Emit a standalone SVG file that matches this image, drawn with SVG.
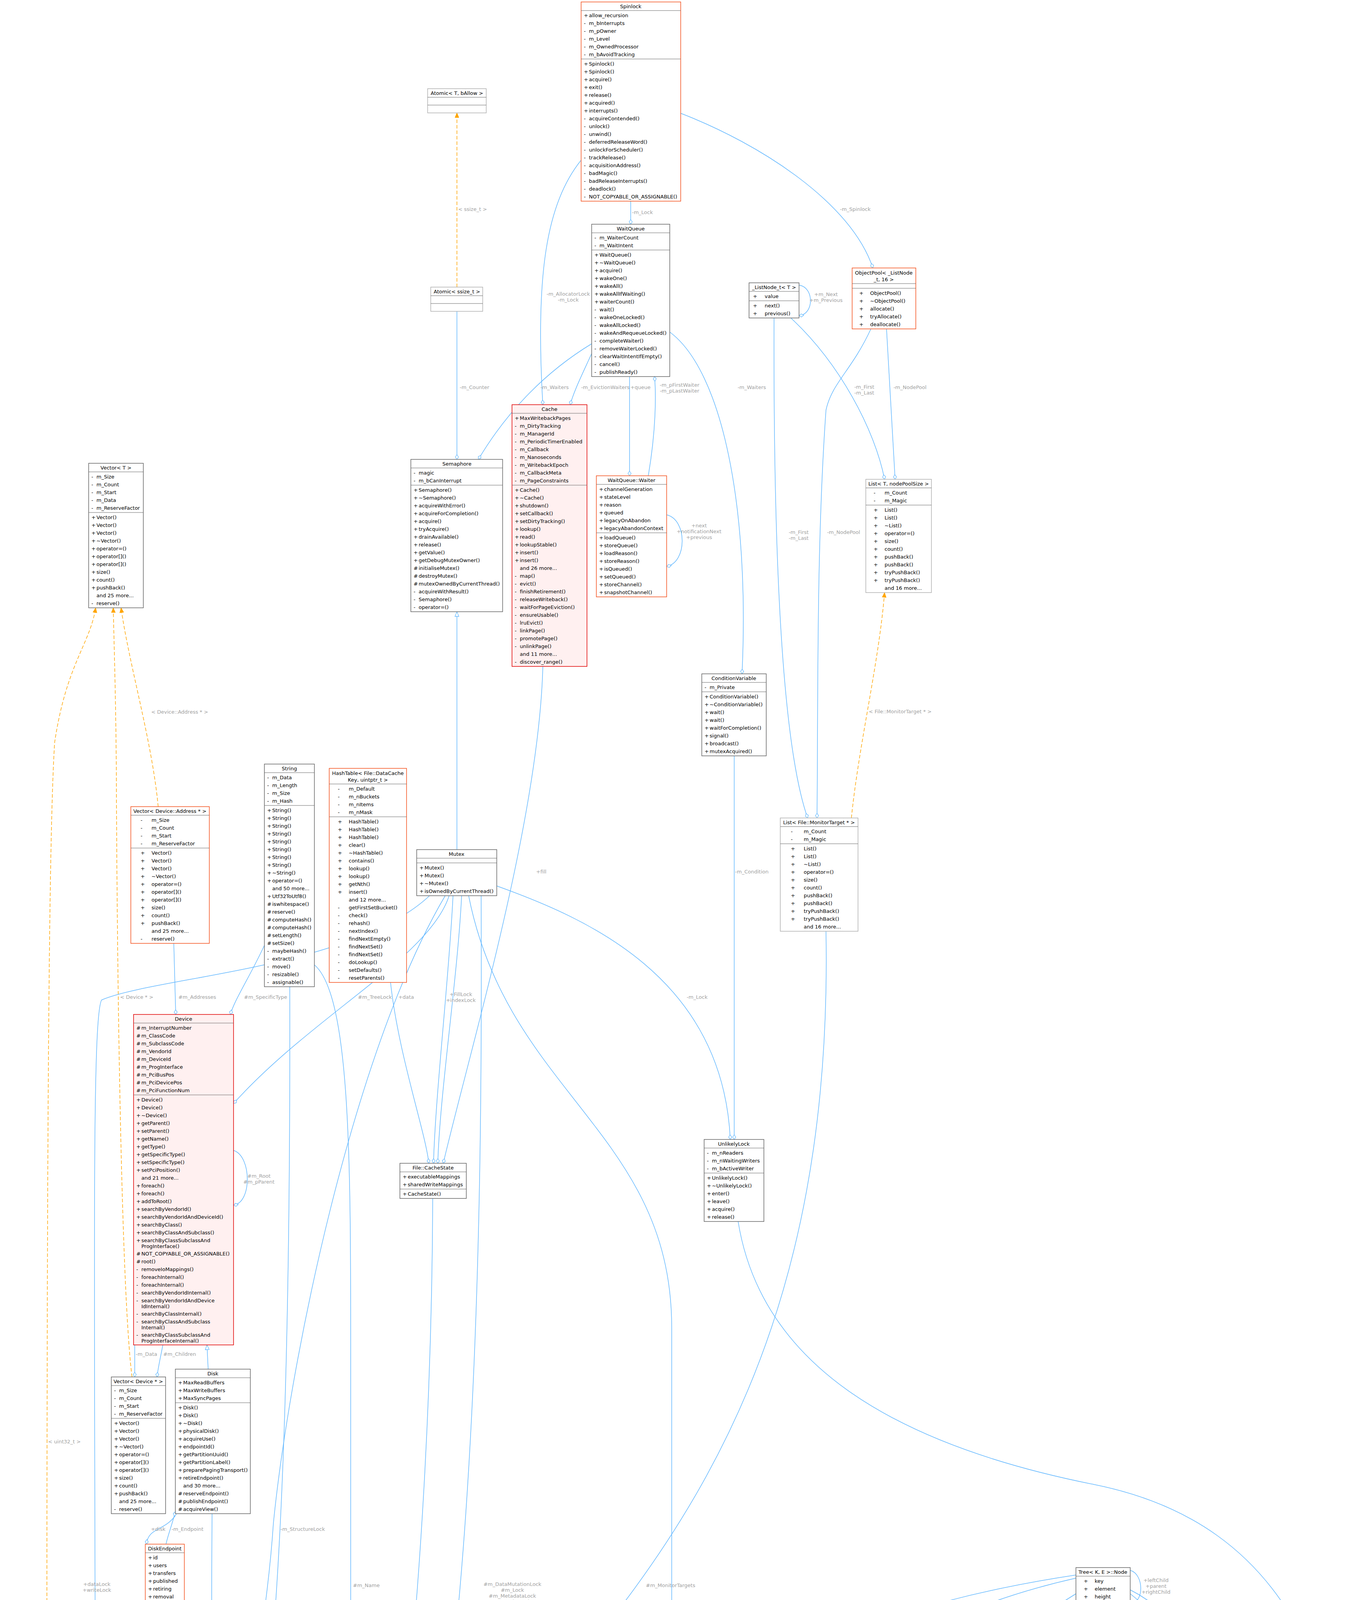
<svg xmlns="http://www.w3.org/2000/svg" width="3508" height="7173" viewBox="0 0 3508 7173">
<style>
text{font-family:"DejaVu Sans","Liberation Sans",sans-serif;font-size:13px;fill:#000}
.h{text-anchor:middle}
.b{fill:#fff;stroke:#666;stroke-width:1.5}
.o{stroke:#f4511e}
.r{fill:#fff0f0;stroke:#e00000}
.g{stroke:#b0b0b0}
.s{fill:#9a9a9a}
.sp{fill:none;stroke:#666;stroke-width:1.2}
.e{fill:none;stroke:#63b8ff;stroke-width:1.5}
.od{fill:none;stroke:#ffa500;stroke-width:1.5;stroke-dasharray:9,5}
.l{fill:#a0a0a0;text-anchor:middle}
</style>
<defs>
<marker id="dm" markerWidth="14" markerHeight="10" refX="13" refY="5" orient="auto" markerUnits="userSpaceOnUse"><path d="M1,5 L7,1 L13,5 L7,9 Z" fill="#fff" stroke="#63b8ff" stroke-width="1.3"/></marker>
<marker id="tr" markerWidth="14" markerHeight="12" refX="13" refY="6" orient="auto" markerUnits="userSpaceOnUse"><path d="M1,1 L13,6 L1,11 Z" fill="#fff" stroke="#63b8ff" stroke-width="1.3"/></marker>
<marker id="oa" markerWidth="14" markerHeight="12" refX="13" refY="6" orient="auto" markerUnits="userSpaceOnUse"><path d="M1,1 L13,6 L1,11 Z" fill="#ffa500" stroke="#ffa500"/></marker>
</defs>

<g id="connectors">
<path class="e" marker-end="url(#dm)" d="M1615,510 L1615,574"/>
<text class="l" x="1645" y="548">-m_Lock</text>
<path class="e" marker-end="url(#dm)" d="M1743,290 C1950,370 2180,520 2235,686"/>
<text class="l" x="2190" y="540">-m_Spinlock</text>
<path class="e" marker-end="url(#dm)" d="M1488,410 C1400,520 1370,700 1390,1036"/>
<text class="l" x="1455" y="757"><tspan x="1455">-m_AllocatorLock</tspan><tspan x="1455" dy="15">-m_Lock</tspan></text>
<path class="e" marker-end="url(#dm)" d="M1715,850 C1850,950 1920,1300 1900,1725"/>
<text class="l" x="1925" y="996">-m_Waiters</text>
<path class="od" marker-end="url(#oa)" d="M1170,735 L1170,289"/>
<text class="l" x="1210" y="540">&lt; ssize_t &gt;</text>
<path class="e" marker-end="url(#dm)" d="M1170,797 L1170,1176"/>
<text class="l" x="1215" y="996">-m_Counter</text>
<path class="e" marker-end="url(#dm)" d="M1515,880 C1400,950 1300,1050 1225,1176"/>
<text class="l" x="1420" y="996">-m_Waiters</text>
<path class="e" marker-end="url(#dm)" d="M1515,905 C1490,960 1470,1000 1460,1036"/>
<text class="l" x="1550" y="996">-m_EvictionWaiters</text>
<path class="e" marker-end="url(#dm)" d="M1612,964 L1612,1218"/>
<text class="l" x="1640" y="996">+queue</text>
<path class="e" marker-end="url(#dm)" d="M1660,1218 C1680,1100 1680,1010 1676,964"/>
<text class="l" x="1740" y="990"><tspan x="1740">-m_pFirstWaiter</tspan><tspan x="1740" dy="15">-m_pLastWaiter</tspan></text>
<path class="e" marker-end="url(#dm)" d="M1707,1318 C1760,1330 1760,1440 1707,1450"/>
<text class="l" x="1790" y="1350"><tspan x="1790">+next</tspan><tspan x="1790" dy="15">+notificationNext</tspan><tspan x="1790" dy="15">+previous</tspan></text>
<path class="e" marker-end="url(#dm)" d="M2046,730 C2085,735 2085,805 2046,808"/>
<text class="l" x="2115" y="758"><tspan x="2115">+m_Next</tspan><tspan x="2115" dy="15">+m_Previous</tspan></text>
<path class="e" marker-end="url(#dm)" d="M2025,814 C2150,930 2240,1100 2265,1227"/>
<text class="l" x="2213" y="995"><tspan x="2213">-m_First</tspan><tspan x="2213" dy="15">-m_Last</tspan></text>
<path class="e" marker-end="url(#dm)" d="M2270,842 L2292,1227"/>
<text class="l" x="2330" y="996">-m_NodePool</text>
<path class="e" marker-end="url(#dm)" d="M1982,814 C1980,1400 2000,1900 2068,2094"/>
<text class="l" x="2045" y="1367"><tspan x="2045">-m_First</tspan><tspan x="2045" dy="15">-m_Last</tspan></text>
<path class="e" marker-end="url(#dm)" d="M2230,842 C2180,950 2130,980 2115,1050 C2090,1400 2095,1800 2092,2094"/>
<text class="l" x="2160" y="1367">-m_NodePool</text>
<path class="od" marker-end="url(#oa)" d="M2180,2094 C2200,1900 2250,1700 2265,1517"/>
<text class="l" x="2305" y="1826">&lt; File::MonitorTarget * &gt;</text>
<path class="e" marker-end="url(#dm)" d="M1880,1935 L1880,2917"/>
<text class="l" x="1925" y="2236">-m_Condition</text>
<path class="e" marker-end="url(#dm)" d="M1272,2268 C1500,2350 1850,2500 1870,2917"/>
<text class="l" x="1785" y="2557">-m_Lock</text>
<path class="e" marker-end="url(#dm)" d="M1390,1706 C1380,2100 1200,2700 1135,2978"/>
<text class="l" x="1386" y="2236">+fill</text>
<path class="e" marker-end="url(#dm)" d="M1160,2293 C1150,2500 1115,2800 1110,2978"/>
<path class="e" marker-end="url(#dm)" d="M1182,2293 C1172,2500 1126,2800 1121,2978"/>
<text class="l" x="1180" y="2550"><tspan x="1180">+FillLock</tspan><tspan x="1180" dy="15">+indexLock</tspan></text>
<path class="e" marker-end="url(#dm)" d="M1000,2515 C1020,2700 1090,2900 1098,2978"/>
<text class="l" x="1040" y="2557">+data</text>
<path class="e" marker-end="url(#dm)" d="M1150,2293 C1100,2450 800,2600 598,2825"/>
<text class="l" x="960" y="2557">#m_TreeLock</text>
<path class="e" marker-end="url(#dm)" d="M677,2420 C640,2500 600,2560 590,2597"/>
<text class="l" x="680" y="2557">#m_SpecificType</text>
<path class="e" marker-end="url(#dm)" d="M445,2415 L450,2597"/>
<text class="l" x="505" y="2557">#m_Addresses</text>
<path class="od" marker-end="url(#oa)" d="M405,2065 C390,1900 330,1700 310,1556"/>
<text class="l" x="460" y="1827">&lt; Device::Address * &gt;</text>
<path class="od" marker-end="url(#oa)" d="M338,3525 C310,3300 300,2500 298,2000 C297,1800 292,1650 290,1556"/>
<text class="l" x="350" y="2557">&lt; Device * &gt;</text>
<path class="od" marker-end="url(#oa)" d="M120,4772 C120,3500 120,2200 140,1900 C170,1700 230,1650 245,1556"/>
<text class="l" x="165" y="3695">&lt; uint32_t &gt;</text>
<path class="e" marker-end="url(#dm)" d="M598,2945 C645,2960 645,3080 598,3085"/>
<text class="l" x="663" y="3015"><tspan x="663">#m_Root</tspan><tspan x="663" dy="15">#m_pParent</tspan></text>
<path class="e" marker-end="url(#dm)" d="M345,3443 L345,3525"/>
<text class="l" x="375" y="3471">-m_Data</text>
<path class="e" marker-end="url(#dm)" d="M417,3443 C410,3480 405,3500 402,3525"/>
<text class="l" x="460" y="3471">#m_Children</text>
<path class="e" marker-end="url(#tr)" d="M533,3505 L530,3443"/>
<path class="e" marker-end="url(#tr)" d="M1170,2175 L1170,1566"/>
<path class="e" marker-end="url(#dm)" d="M449,3880 C420,3920 380,3910 375,3953"/>
<text class="l" x="405" y="3919">+disk</text>
<path class="e" marker-end="url(#dm)" d="M425,3953 C430,3930 440,3905 449,3870"/>
<text class="l" x="480" y="3919">-m_Endpoint</text>
<path class="e" marker-end="url(#dm)" d="M423,4171 L423,4338"/>
<text class="l" x="468" y="4222">-m_Endpoint</text>
<path class="e" marker-end="url(#dm)" d="M543,3875 C540,4300 545,4600 560,4693"/>
<text class="l" x="580" y="4222">#m_pDisk</text>
<path class="e" marker-end="url(#dm)" d="M418,4556 C420,4700 460,4800 509,4845"/>
<text class="l" x="478" y="4660">#m_DiskUse</text>
<path class="e" marker-end="url(#dm)" d="M1140,2293 C900,2700 740,3500 700,3900 C680,4200 620,4400 610,4693"/>
<text class="l" x="775" y="3919">-m_StructureLock</text>
<path class="e" marker-end="url(#dm)" d="M742,2526 C745,3800 700,4400 632,4693"/>
<text class="l" x="815" y="4222">#m_VolumeLabel</text>
<path class="e" marker-end="url(#dm)" d="M805,2470 C900,2550 898,3000 898,3500 L898,5000 C898,5200 850,5250 845,5294"/>
<text class="l" x="938" y="4063">#m_Name</text>
<path class="e" marker-end="url(#dm)" d="M1108,3068 C1105,4000 1000,5000 870,5294"/>
<text class="l" x="1163" y="4222">#m_CacheState</text>
<path class="e" marker-end="url(#dm)" d="M1232,2293 C1235,3000 1235,4800 900,5294"/>
<text class="l" x="1312" y="4060"><tspan x="1312">#m_DataMutationLock</tspan><tspan x="1312" dy="15">#m_Lock</tspan><tspan x="1312" dy="15">#m_MetadataLock</tspan><tspan x="1312" dy="15">#m_WriteLock</tspan></text>
<path class="e" marker-end="url(#dm)" d="M956,4626 L956,4852"/>
<text class="l" x="1025" y="4660">-m_ReadinessState</text>
<path class="e" marker-end="url(#dm)" d="M1366,4626 L1366,4812"/>
<text class="l" x="1430" y="4660">-m_FileEventState</text>
<path class="e" marker-end="url(#tr)" d="M912,5294 L945,5050"/>
<path class="e" marker-end="url(#tr)" d="M941,5360 C1100,5300 1300,5200 1345,5090"/>
<path class="e" marker-end="url(#dm)" d="M652,5190 C700,5250 715,5350 728,5440"/>
<text class="l" x="728" y="5255">#m_pFilesystem</text>
<path class="e" marker-end="url(#dm)" d="M2115,2384 C2130,3200 1900,3700 1600,4100 C1500,4300 1550,5000 1300,5280 C1100,5500 980,5500 941,5510"/>
<text class="l" x="1717" y="4063">#m_MonitorTargets</text>
<path class="e" marker-end="url(#dm)" d="M941,5700 C995,5720 995,5860 941,5870"/>
<text class="l" x="1040" y="5782"><tspan x="1040">#m_pDetachedParent</tspan><tspan x="1040" dy="15">#m_pParent</tspan></text>
<path class="e" marker-end="url(#dm)" d="M1100,2293 C900,2480 400,2500 260,2560 C230,2620 246,3500 246,5645"/>
<text class="l" x="248" y="4060"><tspan x="248">+dataLock</tspan><tspan x="248" dy="15">+writeLock</tspan></text>
<path class="e" marker-end="url(#dm)" d="M1200,2293 C1300,2800 1720,2900 1720,3400 L1720,6100 C1720,6300 1800,6500 1781,6600"/>
<text class="l" x="1792" y="4222"><tspan x="1792">#m_AllocationLock</tspan><tspan x="1792" dy="15">#m_FileMutationLock</tspan><tspan x="1792" dy="15">#m_StateLock</tspan></text>
<path class="e" marker-end="url(#dm)" d="M1890,3127 C1950,3500 2300,3700 2800,3800 C3300,3900 3480,4300 3480,5000 L3480,6200 C3480,6450 2300,6700 1781,6765"/>
<text class="l" x="3460" y="4448">#m_FatLock</text>
<path class="e" marker-end="url(#dm)" d="M2894,4020 C2930,4030 2930,4105 2894,4105"/>
<text class="l" x="2960" y="4050"><tspan x="2960">+leftChild</tspan><tspan x="2960" dy="15">+parent</tspan><tspan x="2960" dy="15">+rightChild</tspan></text>
<path class="e" marker-end="url(#dm)" d="M2795,4111 C2780,4200 2730,4320 2663,4367"/>
<text class="l" x="2797" y="4210"><tspan x="2797">+value</tspan><tspan x="2797" dy="15">-pNode</tspan><tspan x="2797" dy="15">-pPreviousNode</tspan></text>
<path class="e" marker-end="url(#dm)" d="M2840,4111 C2860,4300 2800,4600 2790,4732"/>
<text class="l" x="2870" y="4448">-root</text>
<path class="e" marker-end="url(#dm)" d="M2638,4525 C2650,4600 2680,4700 2690,4732"/>
<text class="l" x="2700" y="4660">-m_Begin</text>
<path class="e" marker-end="url(#dm)" d="M2755,4032 C2300,4100 1900,4250 1830,4450 C1780,4700 1900,5300 1935,5565"/>
<text class="l" x="1808" y="4660">-root</text>
<path class="e" marker-end="url(#dm)" d="M2755,4040 C2400,4120 2050,4300 1985,4600 C1950,4900 2080,5300 2155,5557"/>
<text class="l" x="1963" y="4660">-root</text>
<path class="e" marker-end="url(#dm)" d="M2755,4080 C2400,4300 2170,4550 2150,4900 C2140,5200 2330,5400 2385,5565"/>
<text class="l" x="2150" y="4660">-root</text>
<path class="e" marker-end="url(#dm)" d="M2855,4111 C2900,4400 2980,4800 2980,5100 C2980,5350 2700,5400 2600,5565"/>
<text class="l" x="3007" y="4660">-root</text>
<path class="e" marker-end="url(#dm)" d="M2894,4080 C3050,4200 3120,4500 3130,4800 C3140,5100 2900,5300 2815,5557"/>
<text class="l" x="3160" y="4660">-root</text>
<path class="e" marker-end="url(#dm)" d="M2894,4070 C3150,4200 3200,4600 3210,4900 C3220,5200 3100,5350 3030,5557"/>
<text class="l" x="3212" y="4660">-root</text>
<path class="e" marker-end="url(#dm)" d="M2522,4420 C2200,4550 2050,4700 2000,5000 C1970,5300 1945,5450 1945,5565"/>
<text class="l" x="2085" y="4953">-m_Begin</text>
<path class="e" marker-end="url(#dm)" d="M2522,4440 C2250,4600 2150,4800 2140,5000 C2130,5300 2160,5450 2165,5557"/>
<text class="l" x="2213" y="4953">-m_Begin</text>
<path class="e" marker-end="url(#dm)" d="M2560,4525 C2500,4800 2400,5100 2395,5565"/>
<text class="l" x="2500" y="4953">-m_Begin</text>
<path class="e" marker-end="url(#dm)" d="M2595,4525 C2580,4900 2600,5300 2608,5565"/>
<text class="l" x="2608" y="4953">-m_Begin</text>
<path class="e" marker-end="url(#dm)" d="M2680,4525 C2800,4700 2940,4900 2950,5150 C2960,5350 2830,5450 2823,5557"/>
<text class="l" x="2984" y="4953">-m_Begin</text>
<path class="e" marker-end="url(#dm)" d="M2690,4525 C2900,4600 3100,4800 3130,5000 C3160,5300 3050,5450 3038,5557"/>
<text class="l" x="3162" y="4953">-m_Begin</text>
<path class="od" marker-end="url(#oa)" d="M1965,5565 C2000,5300 2100,5250 2300,5235 C2500,5225 2670,5230 2690,5182"/>
<path class="od" marker-end="url(#oa)" d="M2180,5557 C2220,5350 2300,5240 2700,5230 L2700,5182"/>
<path class="od" marker-end="url(#oa)" d="M2400,5557 C2420,5350 2500,5230 2710,5210 L2712,5182"/>
<path class="od" marker-end="url(#oa)" d="M2620,5565 C2640,5400 2660,5300 2730,5182"/>
<path class="od" marker-end="url(#oa)" d="M2835,5557 C2830,5400 2800,5300 2790,5182"/>
<path class="od" marker-end="url(#oa)" d="M3050,5557 C3040,5400 3000,5250 2880,5230 C2850,5220 2830,5200 2820,5182"/>
<text class="l" x="2185" y="5260">&lt; uint32_t, bool &gt;</text>
<text class="l" x="2350" y="5250"><tspan x="2350">&lt; uintptr_t, FatFilesystem</tspan><tspan x="2350" dy="15">::NodeState * &gt;</tspan></text>
<text class="l" x="2545" y="5260">&lt; uintptr_t, uintptr_t &gt;</text>
<text class="l" x="2710" y="5260">&lt; uint64_t, uintptr_t &gt;</text>
<text class="l" x="2870" y="5250"><tspan x="2870">&lt; File *, FatFilesystem</tspan><tspan x="2870" dy="15">::NodeState * &gt;</tspan></text>
<text class="l" x="3030" y="5250"><tspan x="3030">&lt; uint64_t, FatFile</tspan><tspan x="3030" dy="15">::State * &gt;</tspan></text>
<path class="e" marker-end="url(#dm)" d="M3350,5071 C3340,5400 3270,5600 3268,5755"/>
<text class="l" x="3370" y="5255">+attributes</text>
<path class="e" marker-end="url(#dm)" d="M3280,5813 C3330,5950 3410,5950 3410,5780 C3410,5650 3300,5640 3275,5755"/>
<text class="l" x="3435" y="5787">+next</text>
<path class="e" marker-end="url(#dm)" d="M1950,6015 C1900,6300 1850,6550 1781,6620"/>
<text class="l" x="1905" y="6310">#m_DirtyFatSectors</text>
<path class="e" marker-end="url(#dm)" d="M2150,6025 C2080,6400 1900,6600 1787,6700"/>
<text class="l" x="2095" y="6310">#m_NodeStates</text>
<path class="e" marker-end="url(#dm)" d="M2385,6015 C2300,6400 2000,6650 1787,6722"/>
<text class="l" x="2310" y="6310">#m_FatCache</text>
<path class="e" marker-end="url(#dm)" d="M2600,6015 C2500,6400 2100,6680 1787,6737"/>
<text class="l" x="2540" y="6310">#m_FileIdentifiers</text>
<path class="e" marker-end="url(#dm)" d="M2813,6025 C2700,6400 2200,6700 1787,6745"/>
<text class="l" x="2745" y="6310">#m_NodeAliases</text>
<path class="e" marker-end="url(#dm)" d="M3030,6025 C2900,6400 2300,6700 1787,6752"/>
<text class="l" x="2955" y="6310">#m_FileStates</text>
<path class="e" marker-end="url(#dm)" d="M3235,5813 C3150,6300 2400,6600 1787,6758"/>
<text class="l" x="3185" y="6310">#m_PendingAttributes</text>
<path class="e" marker-end="url(#dm)" d="M470,5913 C520,6300 1200,6650 1587,6740"/>
<text class="l" x="585" y="6310">#m_Superblock</text>
<path class="e" marker-end="url(#dm)" d="M290,5935 C350,6200 1100,6650 1587,6750"/>
<text class="l" x="472" y="6310">#m_StateList</text>
<path class="e" marker-end="url(#dm)" d="M1587,6720 C1000,6500 400,6340 290,6335 C250,6330 265,6100 270,5935"/>
<text class="l" x="305" y="6310">+filesystem</text>
<path class="e" marker-end="url(#dm)" d="M941,6100 C1100,6400 1400,6600 1587,6700"/>
<text class="l" x="1190" y="6310">#m_pRoot</text>
<path class="e" marker-end="url(#dm)" d="M1197,5864 C1240,6300 1500,6600 1587,6680"/>
<text class="l" x="1350" y="6310">#m_Superblock16</text>
<path class="e" marker-end="url(#dm)" d="M1347,5934 C1400,6300 1560,6500 1587,6570"/>
<text class="l" x="1500" y="6310">#m_Superblock32</text>
<path class="e" marker-end="url(#dm)" d="M1500,5873 C1520,6100 1600,6250 1605,6342"/>
<text class="l" x="1625" y="6310">#m_FsInfo</text>
<path class="e" marker-end="url(#dm)" d="M1683,5823 L1683,6342"/>
<text class="l" x="1728" y="6310">#m_RootDir</text>
<path class="e" marker-end="url(#tr)" d="M1587,6790 C1000,6600 650,6300 600,5223"/>
<path class="e" marker-end="url(#tr)" d="M210,6690 C400,6400 700,6250 770,6284"/>
<path class="e" marker-end="url(#dm)" d="M230,5935 C200,6100 150,6300 147,6443"/>
<text class="l" x="198" y="6310">-m_State</text>
<path class="e" marker-end="url(#dm)" d="M190,5935 C170,6200 60,6280 57,6443"/>
<text class="l" x="103" y="6310">+aliases</text>
<path class="e" marker-end="url(#dm)" d="M60,5142 C40,5600 40,6300 80,6443"/>
<text class="l" x="105" y="5787">-m_RetiredClusters</text>
<path class="e" marker-end="url(#dm)" d="M90,5142 C95,5300 200,5300 250,5645"/>
<text class="l" x="175" y="5250"><tspan x="175">+clusters</tspan><tspan x="175" dy="15">+retiredClusters</tspan></text>
<path class="e" marker-end="url(#dm)" d="M313,5700 C350,5720 350,5880 313,5880"/>
<text class="l" x="360" y="5787">+next</text>
<path class="e" marker-end="url(#dm)" d="M210,6700 C255,6720 255,6850 210,6870"/>
<text class="l" x="283" y="6754">-m_NextAlias</text>
</g>

<g id="n_spinlock"><rect class="b o" x="1488" y="5" width="255" height="510"/><text class="h" x="1615" y="21">Spinlock</text><path class="sp o" d="M1488,27 H1743 M1488,151 H1743" stroke="#f4511e"/>
<text x="1495 1508" y="44">+allow_recursion</text><text x="1495 1508" y="64">-m_bInterrupts</text><text x="1495 1508" y="84">-m_pOwner</text><text x="1495 1508" y="104">-m_Level</text><text x="1495 1508" y="124">-m_OwnedProcessor</text><text x="1495 1508" y="144">-m_bAvoidTracking</text>
<text x="1495 1508" y="168">+Spinlock()</text><text x="1495 1508" y="188">+Spinlock()</text><text x="1495 1508" y="208">+acquire()</text><text x="1495 1508" y="228">+exit()</text><text x="1495 1508" y="248">+release()</text><text x="1495 1508" y="268">+acquired()</text><text x="1495 1508" y="288">+interrupts()</text><text x="1495 1508" y="308">-acquireContended()</text><text x="1495 1508" y="328">-unlock()</text><text x="1495 1508" y="348">-unwind()</text><text x="1495 1508" y="368">-deferredReleaseWord()</text><text x="1495 1508" y="388">-unlockForScheduler()</text><text x="1495 1508" y="408">-trackRelease()</text><text x="1495 1508" y="428">-acquisitionAddress()</text><text x="1495 1508" y="448">-badMagic()</text><text x="1495 1508" y="468">-badReleaseInterrupts()</text><text x="1495 1508" y="488">-deadlock()</text><text x="1495 1508" y="508">-NOT_COPYABLE_OR_ASSIGNABLE()</text></g>

<g id="n_atomic_t"><rect class="b g" x="1095" y="227" width="150" height="62"/><text class="h" x="1170" y="243">Atomic&lt; T, bAllow &gt;</text><path class="sp" stroke="#b0b0b0" d="M1095,249 H1245 M1095,269 H1245"/></g>
<g id="n_atomic_ssize"><rect class="b g" x="1103" y="735" width="133" height="62"/><text class="h" x="1170" y="751">Atomic&lt; ssize_t &gt;</text><path class="sp" d="M1103,757 H1236 M1103,777 H1236"/></g>

<g id="n_waitqueue"><rect class="b" x="1515" y="574" width="200" height="390"/><text class="h" x="1615" y="590">WaitQueue</text><path class="sp" d="M1515,596 H1715 M1515,640 H1715"/>
<text x="1522 1535" y="613">-m_WaiterCount</text><text x="1522 1535" y="633">-m_WaitIntent</text>
<text x="1522 1535" y="657">+WaitQueue()</text><text x="1522 1535" y="677">+~WaitQueue()</text><text x="1522 1535" y="697">+acquire()</text><text x="1522 1535" y="717">+wakeOne()</text><text x="1522 1535" y="737">+wakeAll()</text><text x="1522 1535" y="757">+wakeAllIfWaiting()</text><text x="1522 1535" y="777">+waiterCount()</text><text x="1522 1535" y="797">-wait()</text><text x="1522 1535" y="817">-wakeOneLocked()</text><text x="1522 1535" y="837">-wakeAllLocked()</text><text x="1522 1535" y="857">-wakeAndRequeueLocked()</text><text x="1522 1535" y="877">-completeWaiter()</text><text x="1522 1535" y="897">-removeWaiterLocked()</text><text x="1522 1535" y="917">-clearWaitIntentIfEmpty()</text><text x="1522 1535" y="937">-cancel()</text><text x="1522 1535" y="957">-publishReady()</text></g>

<g id="n_semaphore"><rect class="b" x="1052" y="1176" width="235" height="390"/><text class="h" x="1170" y="1192">Semaphore</text><path class="sp" d="M1052,1198 H1287 M1052,1242 H1287"/>
<text x="1059 1072" y="1215">-magic</text><text x="1059 1072" y="1235">-m_bCanInterrupt</text>
<text x="1059 1072" y="1259">+Semaphore()</text><text x="1059 1072" y="1279">+~Semaphore()</text><text x="1059 1072" y="1299">+acquireWithError()</text><text x="1059 1072" y="1319">+acquireForCompletion()</text><text x="1059 1072" y="1339">+acquire()</text><text x="1059 1072" y="1359">+tryAcquire()</text><text x="1059 1072" y="1379">+drainAvailable()</text><text x="1059 1072" y="1399">+release()</text><text x="1059 1072" y="1419">+getValue()</text><text x="1059 1072" y="1439">+getDebugMutexOwner()</text><text x="1059 1072" y="1459">#initialiseMutex()</text><text x="1059 1072" y="1479">#destroyMutex()</text><text x="1059 1072" y="1499">#mutexOwnedByCurrentThread()</text><text x="1059 1072" y="1519">-acquireWithResult()</text><text x="1059 1072" y="1539">-Semaphore()</text><text x="1059 1072" y="1559">-operator=()</text></g>

<g id="n_cache"><rect class="b r" x="1311" y="1036" width="192" height="670"/><text class="h" x="1407" y="1052">Cache</text><path class="sp" stroke="#e00000" d="M1311,1058 H1503 M1311,1242 H1503"/>
<text x="1318 1331" y="1075">+MaxWritebackPages</text><text x="1318 1331" y="1095">-m_DirtyTracking</text><text x="1318 1331" y="1115">-m_ManagerId</text><text x="1318 1331" y="1135">-m_PeriodicTimerEnabled</text><text x="1318 1331" y="1155">-m_Callback</text><text x="1318 1331" y="1175">-m_Nanoseconds</text><text x="1318 1331" y="1195">-m_WritebackEpoch</text><text x="1318 1331" y="1215">-m_CallbackMeta</text><text x="1318 1331" y="1235">-m_PageConstraints</text>
<text x="1318 1331" y="1259">+Cache()</text><text x="1318 1331" y="1279">+~Cache()</text><text x="1318 1331" y="1299">+shutdown()</text><text x="1318 1331" y="1319">+setCallback()</text><text x="1318 1331" y="1339">+setDirtyTracking()</text><text x="1318 1331" y="1359">+lookup()</text><text x="1318 1331" y="1379">+read()</text><text x="1318 1331" y="1399">+lookupStable()</text><text x="1318 1331" y="1419">+insert()</text><text x="1318 1331" y="1439">+insert()</text><text x="1331" y="1459">and 26 more...</text><text x="1318 1331" y="1479">-map()</text><text x="1318 1331" y="1499">-evict()</text><text x="1318 1331" y="1519">-finishRetirement()</text><text x="1318 1331" y="1539">-releaseWriteback()</text><text x="1318 1331" y="1559">-waitForPageEviction()</text><text x="1318 1331" y="1579">-ensureUsable()</text><text x="1318 1331" y="1599">-lruEvict()</text><text x="1318 1331" y="1619">-linkPage()</text><text x="1318 1331" y="1639">-promotePage()</text><text x="1318 1331" y="1659">-unlinkPage()</text><text x="1331" y="1679">and 11 more...</text><text x="1318 1331" y="1699">-discover_range()</text></g>

<g id="n_waiter"><rect class="b o" x="1527" y="1218" width="180" height="310"/><text class="h" x="1617" y="1234">WaitQueue::Waiter</text><path class="sp" stroke="#f4511e" d="M1527,1240 H1707 M1527,1364 H1707"/>
<text x="1534 1547" y="1257">+channelGeneration</text><text x="1534 1547" y="1277">+stateLevel</text><text x="1534 1547" y="1297">+reason</text><text x="1534 1547" y="1317">+queued</text><text x="1534 1547" y="1337">+legacyOnAbandon</text><text x="1534 1547" y="1357">+legacyAbandonContext</text>
<text x="1534 1547" y="1381">+loadQueue()</text><text x="1534 1547" y="1401">+storeQueue()</text><text x="1534 1547" y="1421">+loadReason()</text><text x="1534 1547" y="1441">+storeReason()</text><text x="1534 1547" y="1461">+isQueued()</text><text x="1534 1547" y="1481">+setQueued()</text><text x="1534 1547" y="1501">+storeChannel()</text><text x="1534 1547" y="1521">+snapshotChannel()</text></g>

<g id="n_condvar"><rect class="b" x="1797" y="1725" width="165" height="210"/><text class="h" x="1879" y="1741">ConditionVariable</text><path class="sp" d="M1797,1747 H1962 M1797,1771 H1962"/>
<text x="1804 1817" y="1764">-m_Private</text>
<text x="1804 1817" y="1788">+ConditionVariable()</text><text x="1804 1817" y="1808">+~ConditionVariable()</text><text x="1804 1817" y="1828">+wait()</text><text x="1804 1817" y="1848">+wait()</text><text x="1804 1817" y="1868">+waitForCompletion()</text><text x="1804 1817" y="1888">+signal()</text><text x="1804 1817" y="1908">+broadcast()</text><text x="1804 1817" y="1928">+mutexAcquired()</text></g>

<g id="n_vector_t"><rect class="b" x="227" y="1186" width="140" height="370"/><text class="h" x="297" y="1202">Vector&lt; T &gt;</text><path class="sp" d="M227,1208 H367 M227,1312 H367"/>
<text x="234 247" y="1225">-m_Size</text><text x="234 247" y="1245">-m_Count</text><text x="234 247" y="1265">-m_Start</text><text x="234 247" y="1285">-m_Data</text><text x="234 247" y="1305">-m_ReserveFactor</text>
<text x="234 247" y="1329">+Vector()</text><text x="234 247" y="1349">+Vector()</text><text x="234 247" y="1369">+Vector()</text><text x="234 247" y="1389">+~Vector()</text><text x="234 247" y="1409">+operator=()</text><text x="234 247" y="1429">+operator[]()</text><text x="234 247" y="1449">+operator[]()</text><text x="234 247" y="1469">+size()</text><text x="234 247" y="1489">+count()</text><text x="234 247" y="1509">+pushBack()</text><text x="247" y="1529">and 25 more...</text><text x="234 247" y="1549">-reserve()</text></g>

<g id="n_listnode"><rect class="b" x="1918" y="724" width="128" height="90"/><text class="h" x="1982" y="740">_ListNode_t&lt; T &gt;</text><path class="sp" d="M1918,746 H2046 M1918,770 H2046"/>
<text x="1928 1958" y="763">+value</text><text x="1928 1958" y="787">+next()</text><text x="1928 1958" y="807">+previous()</text></g>

<g id="n_objectpool"><rect class="b o" x="2182" y="686" width="163" height="156"/><text class="h" x="2263" y="703">ObjectPool&lt; _ListNode</text><text class="h" x="2263" y="720">_t, 16 &gt;</text><path class="sp" stroke="#f4511e" d="M2182,726 H2345 M2182,738 H2345"/>
<text x="2200 2228" y="755">+ObjectPool()</text><text x="2200 2228" y="775">+~ObjectPool()</text><text x="2200 2228" y="795">+allocate()</text><text x="2200 2228" y="815">+tryAllocate()</text><text x="2200 2228" y="835">+deallocate()</text></g>

<g id="n_list_t"><rect class="b g" x="2217" y="1227" width="168" height="290"/><text class="h" x="2301" y="1243">List&lt; T, nodePoolSize &gt;</text><path class="sp" stroke="#b0b0b0" d="M2217,1249 H2385 M2217,1293 H2385"/>
<text x="2237 2265" y="1266">-m_Count</text><text x="2237 2265" y="1286">-m_Magic</text>
<text x="2237 2265" y="1310">+List()</text><text x="2237 2265" y="1330">+List()</text><text x="2237 2265" y="1350">+~List()</text><text x="2237 2265" y="1370">+operator=()</text><text x="2237 2265" y="1390">+size()</text><text x="2237 2265" y="1410">+count()</text><text x="2237 2265" y="1430">+pushBack()</text><text x="2237 2265" y="1450">+pushBack()</text><text x="2237 2265" y="1470">+tryPushBack()</text><text x="2237 2265" y="1490">+tryPushBack()</text><text x="2265" y="1510">and 16 more...</text></g>

<g id="n_list_mt"><rect class="b g" x="1998" y="2094" width="199" height="290"/><text class="h" x="2097" y="2110">List&lt; File::MonitorTarget * &gt;</text><path class="sp" stroke="#b0b0b0" d="M1998,2116 H2197 M1998,2160 H2197"/>
<text x="2025 2058" y="2133">-m_Count</text><text x="2025 2058" y="2153">-m_Magic</text>
<text x="2025 2058" y="2177">+List()</text><text x="2025 2058" y="2197">+List()</text><text x="2025 2058" y="2217">+~List()</text><text x="2025 2058" y="2237">+operator=()</text><text x="2025 2058" y="2257">+size()</text><text x="2025 2058" y="2277">+count()</text><text x="2025 2058" y="2297">+pushBack()</text><text x="2025 2058" y="2317">+pushBack()</text><text x="2025 2058" y="2337">+tryPushBack()</text><text x="2025 2058" y="2357">+tryPushBack()</text><text x="2058" y="2377">and 16 more...</text></g>

<g id="n_unlikelylock"><rect class="b" x="1803" y="2917" width="153" height="210"/><text class="h" x="1879" y="2933">UnlikelyLock</text><path class="sp" d="M1803,2939 H1956 M1803,3003 H1956"/>
<text x="1810 1823" y="2956">-m_nReaders</text><text x="1810 1823" y="2976">-m_nWaitingWriters</text><text x="1810 1823" y="2996">-m_bActiveWriter</text>
<text x="1810 1823" y="3020">+UnlikelyLock()</text><text x="1810 1823" y="3040">+~UnlikelyLock()</text><text x="1810 1823" y="3060">+enter()</text><text x="1810 1823" y="3080">+leave()</text><text x="1810 1823" y="3100">+acquire()</text><text x="1810 1823" y="3120">+release()</text></g>

<g id="n_vector_addr"><rect class="b o" x="335" y="2065" width="201" height="350"/><text class="h" x="435" y="2081">Vector&lt; Device::Address * &gt;</text><path class="sp" stroke="#f4511e" d="M335,2087 H536 M335,2171 H536"/>
<text x="360 388" y="2104">-m_Size</text><text x="360 388" y="2124">-m_Count</text><text x="360 388" y="2144">-m_Start</text><text x="360 388" y="2164">-m_ReserveFactor</text>
<text x="360 388" y="2188">+Vector()</text><text x="360 388" y="2208">+Vector()</text><text x="360 388" y="2228">+Vector()</text><text x="360 388" y="2248">+~Vector()</text><text x="360 388" y="2268">+operator=()</text><text x="360 388" y="2288">+operator[]()</text><text x="360 388" y="2308">+operator[]()</text><text x="360 388" y="2328">+size()</text><text x="360 388" y="2348">+count()</text><text x="360 388" y="2368">+pushBack()</text><text x="388" y="2388">and 25 more...</text><text x="360 388" y="2408">-reserve()</text></g>

<g id="n_string"><rect class="b" x="677" y="1956" width="128" height="570"/><text class="h" x="741" y="1972">String</text><path class="sp" d="M677,1978 H805 M677,2062 H805"/>
<text x="684 697" y="1995">-m_Data</text><text x="684 697" y="2015">-m_Length</text><text x="684 697" y="2035">-m_Size</text><text x="684 697" y="2055">-m_Hash</text>
<text x="684 697" y="2079">+String()</text><text x="684 697" y="2099">+String()</text><text x="684 697" y="2119">+String()</text><text x="684 697" y="2139">+String()</text><text x="684 697" y="2159">+String()</text><text x="684 697" y="2179">+String()</text><text x="684 697" y="2199">+String()</text><text x="684 697" y="2219">+String()</text><text x="684 697" y="2239">+~String()</text><text x="684 697" y="2259">+operator=()</text><text x="697" y="2279">and 50 more...</text><text x="684 697" y="2299">+Utf32ToUtf8()</text><text x="684 697" y="2319">#iswhitespace()</text><text x="684 697" y="2339">#reserve()</text><text x="684 697" y="2359">#computeHash()</text><text x="684 697" y="2379">#computeHash()</text><text x="684 697" y="2399">#setLength()</text><text x="684 697" y="2419">#setSize()</text><text x="684 697" y="2439">-maybeHash()</text><text x="684 697" y="2459">-extract()</text><text x="684 697" y="2479">-move()</text><text x="684 697" y="2499">-resizable()</text><text x="684 697" y="2519">-assignable()</text></g>

<g id="n_hashtable"><rect class="b o" x="843" y="1967" width="198" height="548"/><text class="h" x="942" y="1984">HashTable&lt; File::DataCache</text><text class="h" x="942" y="2001">Key, uintptr_t &gt;</text><path class="sp" stroke="#f4511e" d="M843,2007 H1041 M843,2091 H1041"/>
<text x="865 893" y="2024">-m_Default</text><text x="865 893" y="2044">-m_nBuckets</text><text x="865 893" y="2064">-m_nItems</text><text x="865 893" y="2084">-m_nMask</text>
<text x="865 893" y="2108">+HashTable()</text><text x="865 893" y="2128">+HashTable()</text><text x="865 893" y="2148">+HashTable()</text><text x="865 893" y="2168">+clear()</text><text x="865 893" y="2188">+~HashTable()</text><text x="865 893" y="2208">+contains()</text><text x="865 893" y="2228">+lookup()</text><text x="865 893" y="2248">+lookup()</text><text x="865 893" y="2268">+getNth()</text><text x="865 893" y="2288">+insert()</text><text x="893" y="2308">and 12 more...</text><text x="865 893" y="2328">-getFirstSetBucket()</text><text x="865 893" y="2348">-check()</text><text x="865 893" y="2368">-rehash()</text><text x="865 893" y="2388">-nextIndex()</text><text x="865 893" y="2408">-findNextEmpty()</text><text x="865 893" y="2428">-findNextSet()</text><text x="865 893" y="2448">-findNextSet()</text><text x="865 893" y="2468">-doLookup()</text><text x="865 893" y="2488">-setDefaults()</text><text x="865 893" y="2508">-resetParents()</text></g>

<g id="n_mutex"><rect class="b" x="1067" y="2175" width="205" height="118"/><text class="h" x="1169" y="2191">Mutex</text><path class="sp" d="M1067,2197 H1272 M1067,2209 H1272"/>
<text x="1074 1087" y="2226">+Mutex()</text><text x="1074 1087" y="2246">+Mutex()</text><text x="1074 1087" y="2266">+~Mutex()</text><text x="1074 1087" y="2286">+isOwnedByCurrentThread()</text></g>

<g id="n_device"><rect class="b r" x="342" y="2597" width="256" height="846"/><text class="h" x="470" y="2613">Device</text><path class="sp" stroke="#e00000" d="M342,2619 H598 M342,2803 H598"/>
<text x="349 362" y="2636">#m_InterruptNumber</text><text x="349 362" y="2656">#m_ClassCode</text><text x="349 362" y="2676">#m_SubclassCode</text><text x="349 362" y="2696">#m_VendorId</text><text x="349 362" y="2716">#m_DeviceId</text><text x="349 362" y="2736">#m_ProgInterface</text><text x="349 362" y="2756">#m_PciBusPos</text><text x="349 362" y="2776">#m_PciDevicePos</text><text x="349 362" y="2796">#m_PciFunctionNum</text>
<text x="349 362" y="2820">+Device()</text><text x="349 362" y="2840">+Device()</text><text x="349 362" y="2860">+~Device()</text><text x="349 362" y="2880">+getParent()</text><text x="349 362" y="2900">+setParent()</text><text x="349 362" y="2920">+getName()</text><text x="349 362" y="2940">+getType()</text><text x="349 362" y="2960">+getSpecificType()</text><text x="349 362" y="2980">+setSpecificType()</text><text x="349 362" y="3000">+setPciPosition()</text><text x="362" y="3020">and 21 more...</text><text x="349 362" y="3040">+foreach()</text><text x="349 362" y="3060">+foreach()</text><text x="349 362" y="3080">+addToRoot()</text><text x="349 362" y="3100">+searchByVendorId()</text><text x="349 362" y="3120">+searchByVendorIdAndDeviceId()</text><text x="349 362" y="3140">+searchByClass()</text><text x="349 362" y="3160">+searchByClassAndSubclass()</text>
<text x="349 362" y="3180">+searchByClassSubclassAnd</text><text x="362" y="3195">ProgInterface()</text>
<text x="349 362" y="3214">#NOT_COPYABLE_OR_ASSIGNABLE()</text><text x="349 362" y="3234">#root()</text><text x="349 362" y="3254">-removeIoMappings()</text><text x="349 362" y="3274">-foreachInternal()</text><text x="349 362" y="3294">-foreachInternal()</text><text x="349 362" y="3314">-searchByVendorIdInternal()</text>
<text x="349 362" y="3334">-searchByVendorIdAndDevice</text><text x="362" y="3349">IdInternal()</text>
<text x="349 362" y="3368">-searchByClassInternal()</text>
<text x="349 362" y="3388">-searchByClassAndSubclass</text><text x="362" y="3403">Internal()</text>
<text x="349 362" y="3422">-searchByClassSubclassAnd</text><text x="362" y="3437">ProgInterfaceInternal()</text></g>

<g id="n_cachestate"><rect class="b" x="1024" y="2978" width="170" height="90"/><text class="h" x="1109" y="2994">File::CacheState</text><path class="sp" d="M1024,3000 H1194 M1024,3044 H1194"/>
<text x="1031 1044" y="3017">+executableMappings</text><text x="1031 1044" y="3037">+sharedWriteMappings</text><text x="1031 1044" y="3061">+CacheState()</text></g>

<g id="n_vector_dev"><rect class="b" x="285" y="3525" width="139" height="350"/><text class="h" x="354" y="3541">Vector&lt; Device * &gt;</text><path class="sp" d="M285,3547 H424 M285,3631 H424"/>
<text x="292 305" y="3564">-m_Size</text><text x="292 305" y="3584">-m_Count</text><text x="292 305" y="3604">-m_Start</text><text x="292 305" y="3624">-m_ReserveFactor</text>
<text x="292 305" y="3648">+Vector()</text><text x="292 305" y="3668">+Vector()</text><text x="292 305" y="3688">+Vector()</text><text x="292 305" y="3708">+~Vector()</text><text x="292 305" y="3728">+operator=()</text><text x="292 305" y="3748">+operator[]()</text><text x="292 305" y="3768">+operator[]()</text><text x="292 305" y="3788">+size()</text><text x="292 305" y="3808">+count()</text><text x="292 305" y="3828">+pushBack()</text><text x="305" y="3848">and 25 more...</text><text x="292 305" y="3868">-reserve()</text></g>

<g id="n_disk"><rect class="b" x="449" y="3505" width="192" height="370"/><text class="h" x="545" y="3521">Disk</text><path class="sp" d="M449,3527 H641 M449,3591 H641"/>
<text x="456 469" y="3544">+MaxReadBuffers</text><text x="456 469" y="3564">+MaxWriteBuffers</text><text x="456 469" y="3584">+MaxSyncPages</text>
<text x="456 469" y="3608">+Disk()</text><text x="456 469" y="3628">+Disk()</text><text x="456 469" y="3648">+~Disk()</text><text x="456 469" y="3668">+physicalDisk()</text><text x="456 469" y="3688">+acquireUse()</text><text x="456 469" y="3708">+endpointId()</text><text x="456 469" y="3728">+getPartitionUuid()</text><text x="456 469" y="3748">+getPartitionLabel()</text><text x="456 469" y="3768">+preparePagingTransport()</text><text x="456 469" y="3788">+retireEndpoint()</text><text x="469" y="3808">and 30 more...</text><text x="456 469" y="3828">#reserveEndpoint()</text><text x="456 469" y="3848">#publishEndpoint()</text><text x="456 469" y="3868">#acquireView()</text></g>

<g id="n_diskendpoint"><rect class="b o" x="372" y="3953" width="100" height="218"/><text class="h" x="422" y="3969">DiskEndpoint</text><path class="sp" stroke="#f4511e" d="M372,3975 H472 M372,4159 H472"/>
<text x="379 392" y="3992">+id</text><text x="379 392" y="4012">+users</text><text x="379 392" y="4032">+transfers</text><text x="379 392" y="4052">+published</text><text x="379 392" y="4072">+retiring</text><text x="379 392" y="4092">+removal</text><text x="379 392" y="4112">+preparing</text><text x="379 392" y="4132">+closing</text><text x="379 392" y="4152">+bytes</text></g>

<g id="n_diskuse"><rect class="b" x="362" y="4338" width="124" height="218"/><text class="h" x="424" y="4354">DiskUse</text><path class="sp" d="M362,4360 H486 M362,4372 H486"/>
<text x="369 382" y="4389">+DiskUse()</text><text x="369 382" y="4409">+DiskUse()</text><text x="369 382" y="4429">+~DiskUse()</text><text x="369 382" y="4449">+operator=()</text><text x="369 382" y="4469">+reset()</text><text x="369 382" y="4489">+get()</text><text x="369 382" y="4509">+operator bool()</text><text x="369 382" y="4529">-DiskUse()</text><text x="369 382" y="4549">-operator=()</text></g>

<g id="n_sp_readiness"><rect class="b o" x="873" y="4270" width="186" height="356"/><text class="h" x="966" y="4287">SharedPointer&lt; Readiness</text><text class="h" x="966" y="4304">State &gt;</text><path class="sp" stroke="#f4511e" d="M873,4310 H1059 M873,4322 H1059"/>
<text x="895 923" y="4339">+SharedPointer()</text><text x="895 923" y="4359">+SharedPointer()</text><text x="895 923" y="4379">+SharedPointer()</text><text x="895 923" y="4399">+SharedPointer()</text><text x="895 923" y="4419">+~SharedPointer()</text><text x="895 923" y="4439">+reset()</text><text x="895 923" y="4459">+reset()</text><text x="895 923" y="4479">+get()</text><text x="895 923" y="4499">+operator-&gt;()</text><text x="895 923" y="4519">+operator*()</text><text x="923" y="4539">and 11 more...</text><text x="895 923" y="4559">+allocate()</text><text x="895 923" y="4579">+tryAllocate()</text><text x="895 923" y="4599">+tryAdopt()</text><text x="895 923" y="4619">-release()</text></g>

<g id="n_sp_fileevent"><rect class="b o" x="1277" y="4270" width="179" height="356"/><text class="h" x="1366" y="4287">SharedPointer&lt; FileEvent</text><text class="h" x="1366" y="4304">State &gt;</text><path class="sp" stroke="#f4511e" d="M1277,4310 H1456 M1277,4322 H1456"/>
<text x="1297 1325" y="4339">+SharedPointer()</text><text x="1297 1325" y="4359">+SharedPointer()</text><text x="1297 1325" y="4379">+SharedPointer()</text><text x="1297 1325" y="4399">+SharedPointer()</text><text x="1297 1325" y="4419">+~SharedPointer()</text><text x="1297 1325" y="4439">+reset()</text><text x="1297 1325" y="4459">+reset()</text><text x="1297 1325" y="4479">+get()</text><text x="1297 1325" y="4499">+operator-&gt;()</text><text x="1297 1325" y="4519">+operator*()</text><text x="1325" y="4539">and 11 more...</text><text x="1297 1325" y="4559">+allocate()</text><text x="1297 1325" y="4579">+tryAllocate()</text><text x="1297 1325" y="4599">+tryAdopt()</text><text x="1297 1325" y="4619">-release()</text></g>

<g id="n_readinesssource"><rect class="b" x="873" y="4852" width="180" height="198"/><text class="h" x="963" y="4868">ReadinessSource</text><path class="sp" d="M873,4874 H1053 M873,4886 H1053"/>
<text x="880 893" y="4903">+ReadinessSource()</text><text x="880 893" y="4923">+~ReadinessSource()</text><text x="880 893" y="4943">+subscribeReadiness()</text><text x="880 893" y="4963">+readinessGenerations()</text><text x="880 893" y="4983">#notifyReadiness()</text><text x="880 893" y="5003">#closeReadiness()</text><text x="880 893" y="5023">-ReadinessSource()</text><text x="880 893" y="5043">-operator=()</text></g>

<g id="n_fileeventsource"><rect class="b" x="1272" y="4812" width="190" height="278"/><text class="h" x="1367" y="4828">FileEventSource</text><path class="sp" d="M1272,4834 H1462 M1272,4846 H1462"/>
<text x="1279 1292" y="4863">+FileEventSource()</text><text x="1279 1292" y="4883">+~FileEventSource()</text><text x="1279 1292" y="4903">+subscribeFileEvents()</text><text x="1279 1292" y="4923">#hasFileEventObservers()</text><text x="1279 1292" y="4943">#notifyFileEvent()</text><text x="1279 1292" y="4963">#notifyFinalFileEvent()</text><text x="1279 1292" y="4983">#beginFinalFileEvent()</text><text x="1279 1292" y="5003">#drainFileEvents()</text><text x="1279 1292" y="5023">#closeFileEvents()</text><text x="1279 1292" y="5043">#anyFileEventObservers()</text><text x="1279 1292" y="5063">-FileEventSource()</text><text x="1279 1292" y="5083">-operator=()</text></g>

<g id="n_filesystem"><rect class="b" x="509" y="4693" width="143" height="530"/><text class="h" x="580" y="4709">Filesystem</text><path class="sp" d="M509,4715 H652 M509,4739 H652"/>
<text x="516 529" y="4732">#m_bReadOnly</text>
<text x="516 529" y="4756">+Filesystem()</text><text x="516 529" y="4776">+~Filesystem()</text><text x="516 529" y="4796">+initialise()</text><text x="516 529" y="4816">+find()</text><text x="516 529" y="4836">+find()</text><text x="516 529" y="4856">+find()</text><text x="516 529" y="4876">+find()</text><text x="516 529" y="4896">+findRetained()</text><text x="516 529" y="4916">+getRoot()</text><text x="516 529" y="4936">+getVolumeLabel()</text><text x="529" y="4956">and 18 more...</text><text x="516 529" y="4976">#createFile()</text><text x="516 529" y="4996">#createDirectory()</text><text x="516 529" y="5016">#createSymlink()</text><text x="516 529" y="5036">#createLink()</text><text x="516 529" y="5056">#removeNode()</text><text x="516 529" y="5076">#renameNode()</text><text x="516 529" y="5096">-removeChild()</text><text x="516 529" y="5116">-renameChildren()</text><text x="516 529" y="5136">-findNode()</text><text x="516 529" y="5156">-findNode()</text><text x="516 529" y="5176">-findParent()</text><text x="516 529" y="5196">-Filesystem()</text><text x="516 529" y="5216">-operator=()</text></g>

<g id="n_vector_u32"><rect class="b" x="48" y="4772" width="141" height="370"/><text class="h" x="118" y="4788">Vector&lt; uint32_t &gt;</text><path class="sp" d="M48,4794 H189 M48,4898 H189"/>
<text x="55 68" y="4811">-m_Size</text><text x="55 68" y="4831">-m_Count</text><text x="55 68" y="4851">-m_Start</text><text x="55 68" y="4871">-m_Data</text><text x="55 68" y="4891">-m_ReserveFactor</text>
<text x="55 68" y="4915">+Vector()</text><text x="55 68" y="4935">+Vector()</text><text x="55 68" y="4955">+Vector()</text><text x="55 68" y="4975">+~Vector()</text><text x="55 68" y="4995">+operator=()</text><text x="55 68" y="5015">+operator[]()</text><text x="55 68" y="5035">+operator[]()</text><text x="55 68" y="5055">+size()</text><text x="55 68" y="5075">+count()</text><text x="55 68" y="5095">+pushBack()</text><text x="68" y="5115">and 25 more...</text><text x="55 68" y="5135">-reserve()</text></g>

<g id="n_tree_node"><rect class="b" x="2755" y="4013" width="139" height="98"/><text class="h" x="2824" y="4029">Tree&lt; K, E &gt;::Node</text><path class="sp" d="M2755,4035 H2894 M2755,4099 H2894"/>
<text x="2775 2803" y="4052">+key</text><text x="2775 2803" y="4072">+element</text><text x="2775 2803" y="4092">+height</text></g>

<g id="n_tree_iter"><rect class="b" x="2522" y="4367" width="187" height="158"/><text class="h" x="2615" y="4383">Tree&lt; K, E &gt;::IteratorNode</text><path class="sp" d="M2522,4389 H2709 M2522,4401 H2709"/>
<text x="2542 2570" y="4418">+IteratorNode()</text><text x="2542 2570" y="4438">+IteratorNode()</text><text x="2542 2570" y="4458">+next()</text><text x="2542 2570" y="4478">+previous()</text><text x="2542 2570" y="4498">+reset()</text><text x="2542 2570" y="4518">-traverseNext()</text></g>

<g id="n_tree_ke"><rect class="b" x="2649" y="4732" width="189" height="450"/><text class="h" x="2743" y="4748">Tree&lt; K, E &gt;</text><path class="sp" d="M2649,4754 H2838 M2649,4778 H2838"/>
<text x="2656 2669" y="4771">-nItems</text>
<text x="2656 2669" y="4795">+Tree()</text><text x="2656 2669" y="4815">+Tree()</text><text x="2656 2669" y="4835">+~Tree()</text><text x="2656 2669" y="4855">+operator=()</text><text x="2656 2669" y="4875">+count()</text><text x="2656 2669" y="4895">+insert()</text><text x="2656 2669" y="4915">+insert()</text><text x="2656 2669" y="4935">+tryInsert()</text><text x="2656 2669" y="4955">+tryInsert()</text><text x="2656 2669" y="4975">+lookup()</text><text x="2669" y="4995">and 13 more...</text><text x="2656 2669" y="5015">-copyFrom()</text><text x="2656 2669" y="5035">-rotateLeft()</text><text x="2656 2669" y="5055">-rotateRight()</text><text x="2656 2669" y="5075">-height()</text><text x="2656 2669" y="5095">-balanceFactor()</text><text x="2656 2669" y="5115">-rebalanceNode()</text><text x="2656 2669" y="5135">-traverseNode_Insert()</text><text x="2656 2669" y="5155">-traverseNode_Remove()</text><text x="2656 2669" y="5175">-createInsertionNode()</text></g>

<g id="n_attributes"><rect class="b g" x="3315" y="4833" width="109" height="238"/><text class="h" x="3369" y="4849">File::Attributes</text><path class="sp" stroke="#b0b0b0" d="M3315,4855 H3424 M3315,5059 H3424"/>
<text x="3322 3335" y="4872">+accessed</text><text x="3322 3335" y="4892">+modified</text><text x="3322 3335" y="4912">+changed</text><text x="3322 3335" y="4932">+uid</text><text x="3322 3335" y="4952">+gid</text><text x="3322 3335" y="4972">+permissions</text><text x="3322 3335" y="4992">+size</text><text x="3322 3335" y="5012">+links</text><text x="3322 3335" y="5032">+blocks</text><text x="3322 3335" y="5052">+inode</text></g>

<g id="n_file"><rect class="b" x="728" y="5294" width="213" height="990"/><text class="h" x="834" y="5310">File</text><path class="sp" d="M728,5316 H941 M728,5620 H941"/>
<text x="735 748" y="5333">+MaxReadPages</text><text x="735 748" y="5353">#m_AccessedTime</text><text x="735 748" y="5373">#m_ModifiedTime</text><text x="735 748" y="5393">#m_CreationTime</text><text x="735 748" y="5413">#m_Inode</text><text x="735 748" y="5433">#m_FutexIdentity</text><text x="735 748" y="5453">#m_Size</text><text x="735 748" y="5473">#m_bDetachedParentHandled</text><text x="735 748" y="5493">#m_nWriters</text><text x="735 748" y="5513">#m_nReaders</text><text x="735 748" y="5533">#m_Uid</text><text x="735 748" y="5553">#m_Gid</text><text x="735 748" y="5573">#m_Permissions</text><text x="735 748" y="5593">#m_bDirect</text><text x="735 748" y="5613">#m_PhysicalPageLoans</text>
<text x="735 748" y="5637">+File()</text><text x="735 748" y="5657">+File()</text><text x="735 748" y="5677">+~File()</text><text x="735 748" y="5697">+read()</text><text x="735 748" y="5717">+readCached()</text><text x="735 748" y="5737">+write()</text><text x="735 748" y="5757">+append()</text><text x="735 748" y="5777">+lockWrites()</text><text x="735 748" y="5797">+getPhysicalPage()</text><text x="735 748" y="5817">+isDirectPhysicalMapping()</text><text x="748" y="5837">and 81 more...</text><text x="735 748" y="5857">#updateAttributes()</text><text x="735 748" y="5877">#changeOwnership()</text><text x="735 748" y="5897">#allowPhysicalPage()</text><text x="735 748" y="5917">#prepareWrite()</text><text x="735 748" y="5937">#allowResize()</text><text x="735 748" y="5957">#prepareShrink()</text><text x="735 748" y="5977">#resizeFile()</text><text x="735 748" y="5997">#allocateFileRange()</text><text x="735 748" y="6017">#writeSerializationLock()</text><text x="735 748" y="6037">#dataMutationLock()</text><text x="748" y="6057">and 30 more...</text><text x="735 748" y="6077">#writeCallback()</text><text x="735 748" y="6097">#fillCacheCallback()</text><text x="735 748" y="6117">-File()</text><text x="735 748" y="6137">-operator=()</text><text x="735 748" y="6157">-publishWriteMetadata()</text><text x="735 748" y="6177">-writeUnlocked()</text><text x="735 748" y="6197">-getCachedPage()</text><text x="735 748" y="6217">-setCachedPage()</text><text x="735 748" y="6237">-readIntoCache()</text><text x="735 748" y="6257">-populateRangeLocked()</text><text x="735 748" y="6277">-releaseReadReference()</text></g>

<g id="n_fatfile_state"><rect class="b s" x="180" y="5645" width="133" height="290"/><text class="h" x="246" y="5661">FatFile::State</text><path class="sp" d="M180,5667 H313 M180,5891 H313"/>
<text x="187 200" y="5684">-cache</text><text x="187 200" y="5704">-pageLoans</text><text x="187 200" y="5724">-accessed</text><text x="187 200" y="5744">-modified</text><text x="187 200" y="5764">-changed</text><text x="187 200" y="5784">-size</text><text x="187 200" y="5804">-inode</text><text x="187 200" y="5824">-identifier</text><text x="187 200" y="5844">-directoryCluster</text><text x="187 200" y="5864">-directoryOffset</text><text x="200" y="5884">and 7 more...</text>
<text x="187 200" y="5908">-State()</text><text x="187 200" y="5928">-~State()</text></g>

<g id="n_superblock"><rect class="b" x="416" y="5655" width="160" height="258"/><text class="h" x="496" y="5671">Superblock</text><path class="sp" d="M416,5677 H576 M416,5901 H576"/>
<text x="423 436" y="5694">+s_inodes_count</text><text x="423 436" y="5714">+s_blocks_count</text><text x="423 436" y="5734">+s_r_blocks_count</text><text x="423 436" y="5754">+s_free_blocks_count</text><text x="423 436" y="5774">+s_free_inodes_count</text><text x="423 436" y="5794">+s_first_data_block</text><text x="423 436" y="5814">+s_log_block_size</text><text x="423 436" y="5834">+s_log_frag_size</text><text x="423 436" y="5854">+s_blocks_per_group</text><text x="423 436" y="5874">+s_frags_per_group</text><text x="436" y="5894">and 46 more...</text></g>

<g id="n_superblock16"><rect class="b" x="1137" y="5706" width="121" height="158"/><text class="h" x="1197" y="5722">Superblock16</text><path class="sp" d="M1137,5728 H1258 M1137,5852 H1258"/>
<text x="1144 1157" y="5745">+BS_DrvNum</text><text x="1144 1157" y="5765">+BS_Reserved1</text><text x="1144 1157" y="5785">+BS_BootSig</text><text x="1144 1157" y="5805">+BS_VolID</text><text x="1144 1157" y="5825">+BS_VolLab</text><text x="1144 1157" y="5845">+BS_FilSysType</text></g>

<g id="n_superblock32"><rect class="b" x="1282" y="5636" width="131" height="298"/><text class="h" x="1347" y="5652">Superblock32</text><path class="sp" d="M1282,5658 H1413 M1282,5922 H1413"/>
<text x="1289 1302" y="5675">+BPB_FATSz32</text><text x="1289 1302" y="5695">+BPB_ExtFlags</text><text x="1289 1302" y="5715">+BPB_FSVer</text><text x="1289 1302" y="5735">+BPB_RootClus</text><text x="1289 1302" y="5755">+BPB_FSInfo</text><text x="1289 1302" y="5775">+BPB_BkBootSec</text><text x="1289 1302" y="5795">+BPB_Reserved</text><text x="1289 1302" y="5815">+BS_DrvNum</text><text x="1289 1302" y="5835">+BS_Reserved1</text><text x="1289 1302" y="5855">+BS_BootSig</text><text x="1289 1302" y="5875">+BS_VolID</text><text x="1289 1302" y="5895">+BS_VolLab</text><text x="1289 1302" y="5915">+BS_FilSysType</text></g>

<g id="n_fsinfo32"><rect class="b" x="1439" y="5695" width="127" height="178"/><text class="h" x="1502" y="5711">FSInfo32</text><path class="sp" d="M1439,5717 H1566 M1439,5861 H1566"/>
<text x="1446 1459" y="5734">+FSI_LeadSig</text><text x="1446 1459" y="5754">+FSI_Reserved1</text><text x="1446 1459" y="5774">+FSI_StrucSig</text><text x="1446 1459" y="5794">+FSI_Free_Count</text><text x="1446 1459" y="5814">+FSI_NxtFree</text><text x="1446 1459" y="5834">+FSI_Reserved2</text><text x="1446 1459" y="5854">+FSI_TrailSig</text></g>

<g id="n_rootdirinfo"><rect class="b" x="1590" y="5745" width="187" height="78"/><text class="h" x="1683" y="5761">FatFilesystem::RootDirInfo</text><path class="sp" d="M1590,5767 H1777 M1590,5811 H1777"/>
<text x="1625 1665" y="5784">+sector</text><text x="1625 1665" y="5804">+cluster</text></g>

<g id="n_tree_u32_bool"><rect class="b" x="1852" y="5565" width="188" height="450"/><text class="h" x="1946" y="5581">Tree&lt; uint32_t, bool &gt;</text><path class="sp" d="M1852,5587 H2040 M1852,5611 H2040"/>
<text x="1859 1872" y="5604">-nItems</text><text x="1859 1872" y="5628">+Tree()</text><text x="1859 1872" y="5648">+Tree()</text><text x="1859 1872" y="5668">+~Tree()</text><text x="1859 1872" y="5688">+operator=()</text><text x="1859 1872" y="5708">+count()</text><text x="1859 1872" y="5728">+insert()</text><text x="1859 1872" y="5748">+insert()</text><text x="1859 1872" y="5768">+tryInsert()</text><text x="1859 1872" y="5788">+tryInsert()</text><text x="1859 1872" y="5808">+lookup()</text><text x="1872" y="5828">and 13 more...</text><text x="1859 1872" y="5848">-copyFrom()</text><text x="1859 1872" y="5868">-rotateLeft()</text><text x="1859 1872" y="5888">-rotateRight()</text><text x="1859 1872" y="5908">-height()</text><text x="1859 1872" y="5928">-balanceFactor()</text><text x="1859 1872" y="5948">-rebalanceNode()</text><text x="1859 1872" y="5968">-traverseNode_Insert()</text><text x="1859 1872" y="5988">-traverseNode_Remove()</text><text x="1859 1872" y="6008">-createInsertionNode()</text></g>

<g id="n_tree_uptr_ns"><rect class="b" x="2064" y="5557" width="209" height="468"/><text class="h" x="2168" y="5574">Tree&lt; uintptr_t, FatFilesystem</text><text class="h" x="2168" y="5591">::NodeState * &gt;</text><path class="sp" d="M2064,5597 H2273 M2064,5621 H2273"/>
<text x="2071 2088" y="5614">-nItems</text><text x="2071 2088" y="5638">+Tree()</text><text x="2071 2088" y="5658">+Tree()</text><text x="2071 2088" y="5678">+~Tree()</text><text x="2071 2088" y="5698">+operator=()</text><text x="2071 2088" y="5718">+count()</text><text x="2071 2088" y="5738">+insert()</text><text x="2071 2088" y="5758">+insert()</text><text x="2071 2088" y="5778">+tryInsert()</text><text x="2071 2088" y="5798">+tryInsert()</text><text x="2071 2088" y="5818">+lookup()</text><text x="2088" y="5838">and 13 more...</text><text x="2071 2088" y="5858">-copyFrom()</text><text x="2071 2088" y="5878">-rotateLeft()</text><text x="2071 2088" y="5898">-rotateRight()</text><text x="2071 2088" y="5918">-height()</text><text x="2071 2088" y="5938">-balanceFactor()</text><text x="2071 2088" y="5958">-rebalanceNode()</text><text x="2071 2088" y="5978">-traverseNode_Insert()</text><text x="2071 2088" y="5998">-traverseNode_Remove()</text><text x="2071 2088" y="6018">-createInsertionNode()</text></g>

<g id="n_tree_uptr_uptr"><rect class="b" x="2299" y="5565" width="188" height="450"/><text class="h" x="2393" y="5581">Tree&lt; uintptr_t, uintptr_t &gt;</text><path class="sp" d="M2299,5587 H2487 M2299,5611 H2487"/>
<text x="2306 2319" y="5604">-nItems</text><text x="2306 2319" y="5628">+Tree()</text><text x="2306 2319" y="5648">+Tree()</text><text x="2306 2319" y="5668">+~Tree()</text><text x="2306 2319" y="5688">+operator=()</text><text x="2306 2319" y="5708">+count()</text><text x="2306 2319" y="5728">+insert()</text><text x="2306 2319" y="5748">+insert()</text><text x="2306 2319" y="5768">+tryInsert()</text><text x="2306 2319" y="5788">+tryInsert()</text><text x="2306 2319" y="5808">+lookup()</text><text x="2319" y="5828">and 13 more...</text><text x="2306 2319" y="5848">-copyFrom()</text><text x="2306 2319" y="5868">-rotateLeft()</text><text x="2306 2319" y="5888">-rotateRight()</text><text x="2306 2319" y="5908">-height()</text><text x="2306 2319" y="5928">-balanceFactor()</text><text x="2306 2319" y="5948">-rebalanceNode()</text><text x="2306 2319" y="5968">-traverseNode_Insert()</text><text x="2306 2319" y="5988">-traverseNode_Remove()</text><text x="2306 2319" y="6008">-createInsertionNode()</text></g>

<g id="n_tree_u64_uptr"><rect class="b" x="2513" y="5565" width="186" height="450"/><text class="h" x="2606" y="5581">Tree&lt; uint64_t, uintptr_t &gt;</text><path class="sp" d="M2513,5587 H2699 M2513,5611 H2699"/>
<text x="2520 2533" y="5604">-nItems</text><text x="2520 2533" y="5628">+Tree()</text><text x="2520 2533" y="5648">+Tree()</text><text x="2520 2533" y="5668">+~Tree()</text><text x="2520 2533" y="5688">+operator=()</text><text x="2520 2533" y="5708">+count()</text><text x="2520 2533" y="5728">+insert()</text><text x="2520 2533" y="5748">+insert()</text><text x="2520 2533" y="5768">+tryInsert()</text><text x="2520 2533" y="5788">+tryInsert()</text><text x="2520 2533" y="5808">+lookup()</text><text x="2533" y="5828">and 13 more...</text><text x="2520 2533" y="5848">-copyFrom()</text><text x="2520 2533" y="5868">-rotateLeft()</text><text x="2520 2533" y="5888">-rotateRight()</text><text x="2520 2533" y="5908">-height()</text><text x="2520 2533" y="5928">-balanceFactor()</text><text x="2520 2533" y="5948">-rebalanceNode()</text><text x="2520 2533" y="5968">-traverseNode_Insert()</text><text x="2520 2533" y="5988">-traverseNode_Remove()</text><text x="2520 2533" y="6008">-createInsertionNode()</text></g>

<g id="n_tree_file_ns"><rect class="b" x="2724" y="5557" width="188" height="468"/><text class="h" x="2818" y="5574">Tree&lt; File *, FatFilesystem</text><text class="h" x="2818" y="5591">::NodeState * &gt;</text><path class="sp" d="M2724,5597 H2912 M2724,5621 H2912"/>
<text x="2731 2744" y="5614">-nItems</text><text x="2731 2744" y="5638">+Tree()</text><text x="2731 2744" y="5658">+Tree()</text><text x="2731 2744" y="5678">+~Tree()</text><text x="2731 2744" y="5698">+operator=()</text><text x="2731 2744" y="5718">+count()</text><text x="2731 2744" y="5738">+insert()</text><text x="2731 2744" y="5758">+insert()</text><text x="2731 2744" y="5778">+tryInsert()</text><text x="2731 2744" y="5798">+tryInsert()</text><text x="2731 2744" y="5818">+lookup()</text><text x="2744" y="5838">and 13 more...</text><text x="2731 2744" y="5858">-copyFrom()</text><text x="2731 2744" y="5878">-rotateLeft()</text><text x="2731 2744" y="5898">-rotateRight()</text><text x="2731 2744" y="5918">-height()</text><text x="2731 2744" y="5938">-balanceFactor()</text><text x="2731 2744" y="5958">-rebalanceNode()</text><text x="2731 2744" y="5978">-traverseNode_Insert()</text><text x="2731 2744" y="5998">-traverseNode_Remove()</text><text x="2731 2744" y="6018">-createInsertionNode()</text></g>

<g id="n_tree_u64_state"><rect class="b" x="2936" y="5557" width="188" height="468"/><text class="h" x="3030" y="5574">Tree&lt; uint64_t, FatFile</text><text class="h" x="3030" y="5591">::State * &gt;</text><path class="sp" d="M2936,5597 H3124 M2936,5621 H3124"/>
<text x="2943 2956" y="5614">-nItems</text><text x="2943 2956" y="5638">+Tree()</text><text x="2943 2956" y="5658">+Tree()</text><text x="2943 2956" y="5678">+~Tree()</text><text x="2943 2956" y="5698">+operator=()</text><text x="2943 2956" y="5718">+count()</text><text x="2943 2956" y="5738">+insert()</text><text x="2943 2956" y="5758">+insert()</text><text x="2943 2956" y="5778">+tryInsert()</text><text x="2943 2956" y="5798">+tryInsert()</text><text x="2943 2956" y="5818">+lookup()</text><text x="2956" y="5838">and 13 more...</text><text x="2943 2956" y="5858">-copyFrom()</text><text x="2943 2956" y="5878">-rotateLeft()</text><text x="2943 2956" y="5898">-rotateRight()</text><text x="2943 2956" y="5918">-height()</text><text x="2943 2956" y="5938">-balanceFactor()</text><text x="2943 2956" y="5958">-rebalanceNode()</text><text x="2943 2956" y="5978">-traverseNode_Insert()</text><text x="2943 2956" y="5998">-traverseNode_Remove()</text><text x="2943 2956" y="6018">-createInsertionNode()</text></g>

<g id="n_pending"><rect class="b" x="3149" y="5755" width="227" height="58"/><text class="h" x="3262" y="5771">FatFilesystem::PendingAttributes</text><path class="sp" d="M3149,5777 H3376 M3149,5801 H3376"/>
<text x="3200 3260" y="5794">+slot</text></g>

<g id="n_fatfile"><rect class="b" x="24" y="6443" width="186" height="630"/><text class="h" x="117" y="6459">FatFile</text><path class="sp" d="M24,6465 H210 M24,6569 H210"/>
<text x="31 44" y="6482">-m_Proxy</text><text x="31 44" y="6502">-m_DirClus</text><text x="31 44" y="6522">-m_DirOffset</text><text x="31 44" y="6542">-m_MetadataDirty</text><text x="31 44" y="6562">-m_TrimPending</text>
<text x="31 44" y="6586">+truncate()</text><text x="31 44" y="6606">+getSize()</text><text x="31 44" y="6626">+setInode()</text><text x="31 44" y="6646">+maximumFileSize()</text><text x="31 44" y="6666">+futexIdentity()</text><text x="31 44" y="6686">+fileAttributeChanged()</text><text x="31 44" y="6706">+syncPages()</text><text x="31 44" y="6726">+FatFile()</text><text x="31 44" y="6746">+~FatFile()</text><text x="31 44" y="6766">+getDirCluster()</text><text x="44" y="6786">and 12 more...</text><text x="31 44" y="6806">#cacheState()</text><text x="31 44" y="6826">#dataMutationLock()</text><text x="31 44" y="6846">#writeSerializationLock()</text><text x="31 44" y="6866">#physicalPageLoans()</text><text x="31 44" y="6886">#useFillCache()</text><text x="31 44" y="6906">#readPage()</text><text x="31 44" y="6926">#prepareShrink()</text><text x="31 44" y="6946">#resizeFile()</text><text x="31 44" y="6966">-FatFile()</text><text x="31 44" y="6986">-operator=()</text><text x="31 44" y="7006">-copyStateAttributes()</text><text x="31 44" y="7026">-FatFile()</text><text x="31 44" y="7046">-checkedBatchCallback()</text><text x="31 44" y="7066">-checkedWriteCallback()</text></g>

<g id="n_fatfilesystem"><rect class="b" x="1587" y="6342" width="194" height="830"/><text class="h" x="1684" y="6358">FatFilesystem</text><path class="sp" d="M1587,6364 H1781 M1587,6648 H1781"/>
<text x="1594 1607" y="6381">#m_FsInfoInvalidated</text><text x="1594 1607" y="6401">#m_ChainRevision</text><text x="1594 1607" y="6421">#m_NextFileIdentifier</text><text x="1594 1607" y="6441">#m_IoFailed</text><text x="1594 1607" y="6461">#m_ShutdownComplete</text><text x="1594 1607" y="6481">#m_MountedClean</text><text x="1594 1607" y="6501">#m_Type</text><text x="1594 1607" y="6521">#m_DataAreaStart</text><text x="1594 1607" y="6541">#m_RootDirCount</text><text x="1594 1607" y="6561">#m_FatSector</text><text x="1594 1607" y="6581">#m_BlockSize</text><text x="1594 1607" y="6601">#m_ClusterCount</text><text x="1594 1607" y="6621">#m_pFatCache</text><text x="1594 1607" y="6641">#m_FreeClusterHint</text>
<text x="1594 1607" y="6665">+FatFilesystem()</text><text x="1594 1607" y="6685">+~FatFilesystem()</text><text x="1594 1607" y="6705">+initialise()</text><text x="1594 1607" y="6725">+getRoot()</text><text x="1594 1607" y="6745">+getVolumeLabel()</text><text x="1594 1607" y="6765">+getUuid()</text><text x="1594 1607" y="6785">+sync()</text><text x="1594 1607" y="6805">+shutdown()</text><text x="1594 1607" y="6825">+read()</text><text x="1594 1607" y="6845">+write()</text><text x="1594 1607" y="6865">+truncate()</text><text x="1594 1607" y="6885">+fileAttributeChanged()</text><text x="1594 1607" y="6905">+cacheDirectoryContents()</text><text x="1594 1607" y="6925">+extend()</text><text x="1594 1607" y="6945">+probe()</text><text x="1594 1607" y="6965">#createFile()</text><text x="1594 1607" y="6985">#createDirectory()</text><text x="1594 1607" y="7005">#createSymlink()</text><text x="1594 1607" y="7025">#removeNode()</text><text x="1594 1607" y="7045">#renameNode()</text><text x="1594 1607" y="7065">#FatFilesystem()</text><text x="1594 1607" y="7085">#operator=()</text><text x="1594 1607" y="7105">#loadRootDir()</text><text x="1594 1607" y="7125">#cacheVolumeLabel()</text><text x="1594 1607" y="7145">#readCluster()</text><text x="1607" y="7165">and 58 more...</text></g>
</svg>
